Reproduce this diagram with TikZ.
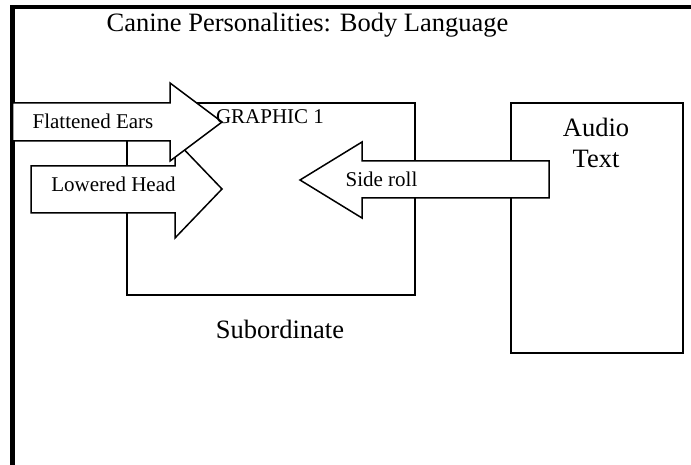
\documentclass[tikz,border=0pt]{standalone}
\usepackage{fontspec}
\setmainfont{Liberation Serif}
\tikzset{
  box/.style={draw,line width=1.5pt,inner sep=0pt},
  blockarrow/.style={draw,fill=white,line width=1.5pt,line join=miter},
  bigtext/.style={font=\fontsize{26.5}{31}\selectfont,anchor=base,inner sep=0pt},
  smalltext/.style={font=\fontsize{21}{25}\selectfont,anchor=base,inner sep=0pt},
}
\begin{document}
\begin{tikzpicture}[x=1pt,y=-1pt]
\useasboundingbox (0,0) rectangle (691,465);
% page frame
\draw[line width=4.5pt] (691,7)--(12.5,7)--(12.5,465);
\node[bigtext] (title) at (307.5,32) {Canine Personalities: Body Language};
% boxes
\node[box,minimum width=288pt,minimum height=192pt] (graphic) at (271,199) {};
\node[box,minimum width=172pt,minimum height=250pt] (audiobox) at (597,228) {};
% arrows
\draw[blockarrow] (31,166)--(175,166)--(175,140)--(222,189)--(175,238)--(175,213)--(31,213)--cycle;
\draw[blockarrow] (12.5,103)--(170,103)--(170,83)--(222,122)--(170,161)--(170,141)--(12.5,141)--cycle;
\draw[blockarrow] (549,161)--(362,161)--(362,142)--(300,180)--(362,218)--(362,198)--(549,198)--cycle;
% labels
\node[smalltext] (graphiclabel) at (270,124) {GRAPHIC 1};
\node[smalltext] (ears) at (93,129) {Flattened Ears};
\node[smalltext] (head) at (113.5,192) {Lowered Head};
\node[smalltext] (roll) at (381.5,187) {Side roll};
\node[bigtext] (sub) at (280,338) {Subordinate};
\node[bigtext] (audio) at (596,137) {Audio};
\node[bigtext] (text) at (596,168) {Text};
\end{tikzpicture}
\end{document}
